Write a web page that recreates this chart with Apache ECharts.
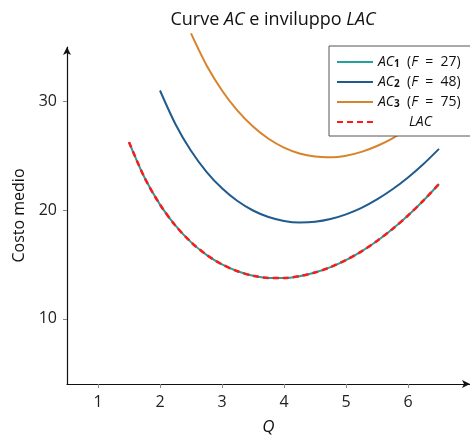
<!DOCTYPE html>
<html>
<head>
<meta charset="utf-8">
<script src="https://cdn.jsdelivr.net/npm/echarts@6/dist/echarts.min.js"></script>
<style>
  html, body { margin: 0; padding: 0; background: #fff; }
  #chart { width: 470px; height: 436px; }
</style>
</head>
<body>
<div id="chart"></div>
<script>
// Q values (step 0.25) and average cost
var q1 = [1.5, 1.75, 2, 2.25, 2.5, 2.75, 3, 3.25, 3.5, 3.75, 4, 4.25, 4.5, 4.75, 5, 5.25, 5.5, 5.75, 6, 6.25, 6.5];
var ac1 = [26.25, 22.99, 20.5, 18.56, 17.05, 15.88, 15.0, 14.37, 13.96, 13.76, 13.75, 13.92, 14.25, 14.75, 15.4, 16.2, 17.16, 18.26, 19.5, 20.88, 22.4];

var q2 = [2, 2.25, 2.5, 2.75, 3, 3.25, 3.5, 3.75, 4, 4.25, 4.5, 4.75, 5, 5.25, 5.5, 5.75, 6, 6.25, 6.5];
var ac2 = [31.0, 27.9, 25.45, 23.52, 22.0, 20.83, 19.96, 19.36, 19.0, 18.86, 18.92, 19.17, 19.6, 20.2, 20.98, 21.91, 23.0, 24.24, 25.63];

var q3 = [2.5, 2.75, 3, 3.25, 3.5, 3.75, 4, 4.25, 4.5, 4.75, 5, 5.25, 5.5, 5.75, 6, 6.25, 6.5];
var ac3 = [36.25, 33.33, 31.0, 29.14, 27.68, 26.56, 25.75, 25.21, 24.92, 24.85, 25.0, 25.35, 25.89, 26.6, 27.5, 28.56, 29.79];

// inviluppo LAC (coincide con AC1 nel grafico)
var qLac = [1.5, 1.75, 2, 2.25, 2.5, 2.75, 3, 3.25, 3.5, 3.75, 4, 4.25, 4.5, 4.75, 5, 5.25, 5.5, 5.75, 6, 6.25, 6.5];
var lac = [26.25, 22.99, 20.5, 18.56, 17.05, 15.88, 15.0, 14.37, 13.96, 13.76, 13.75, 13.92, 14.25, 14.75, 15.4, 16.2, 17.16, 18.26, 19.5, 20.88, 22.4];

var xTicks = [1, 2, 3, 4, 5, 6];
var yTicks = [10, 20, 30];

var FONT = 'Open Sans';

function pairs(xs, ys) {
  return xs.map(function (x, i) { return [x, ys[i]]; });
}

var legendText = {
  'AC1': '{it|AC}{sub|1}  ({it|F}  =  27)',
  'AC2': '{it|AC}{sub|2}  ({it|F}  =  48)',
  'AC3': '{it|AC}{sub|3}  ({it|F}  =  75)',
  'LAC': '{lac|LAC}'
};

var myChart = echarts.init(document.getElementById('chart'));
var option = {
  animation: false,
  title: {
    text: '{n|Curve }{i|AC}{n| e inviluppo }{i|LAC}',
    left: 268,
    top: 6,
    textAlign: 'center',
    textStyle: {
      fontWeight: 'normal',
      rich: {
        n: {fontFamily: FONT, fontSize: 18, fontWeight: 'normal', color: '#111'},
        i: {fontFamily: FONT, fontSize: 18, fontWeight: 'normal', color: '#111', fontStyle: 'italic'}
      }
    }
  },
  grid: {
    left: 67,
    right: 0,
    top: 47,
    bottom: 52,
    outerBoundsMode: 'none'
  },
  legend: {
    orient: 'vertical',
    left: 329,
    top: 46,
    padding: [9, 40, 7, 7],
    itemWidth: 36,
    itemHeight: 14,
    itemGap: 6,
    backgroundColor: '#fff',
    borderColor: '#555',
    borderWidth: 1,
    borderRadius: 0,
    itemStyle: {opacity: 0},
    data: ['AC1', 'AC2', 'AC3', 'LAC'],
    formatter: function (name) {
      return legendText[name];
    },
    textStyle: {
      color: '#111',
      fontFamily: FONT,
      fontSize: 14,
      rich: {
        it: {fontFamily: FONT, fontSize: 14, fontStyle: 'italic', color: '#111', lineHeight: 14},
        sub: {fontFamily: FONT, fontSize: 10, fontWeight: 'bold', color: '#111', verticalAlign: 'bottom', lineHeight: 14},
        lac: {fontFamily: FONT, fontSize: 14, fontStyle: 'italic', color: '#111', width: 85, align: 'center', lineHeight: 14}
      }
    }
  },
  xAxis: {
    type: 'value',
    min: 0.5,
    max: 7,
    name: 'Q',
    nameLocation: 'middle',
    nameGap: 35,
    nameTextStyle: {fontFamily: FONT, fontSize: 17, fontStyle: 'italic', color: '#111'},
    splitLine: {show: false},
    axisLine: {
      onZero: false,
      symbol: ['none', 'arrow'],
      symbolSize: [6, 8],
      lineStyle: {color: '#111', width: 1.2}
    },
    axisTick: {
      show: true,
      customValues: xTicks,
      length: 4,
      lineStyle: {color: '#888'}
    },
    axisLabel: {
      customValues: xTicks,
      margin: 10,
      fontFamily: FONT,
      fontSize: 16,
      color: '#222'
    }
  },
  yAxis: {
    type: 'value',
    min: 4,
    max: 35,
    name: 'Costo medio',
    nameLocation: 'middle',
    nameGap: 40,
    nameTextStyle: {fontFamily: FONT, fontSize: 16, color: '#111'},
    splitLine: {show: false},
    axisLine: {
      show: true,
      onZero: false,
      symbol: ['none', 'arrow'],
      symbolSize: [6, 8],
      lineStyle: {color: '#111', width: 1.2}
    },
    axisTick: {
      show: true,
      customValues: yTicks,
      length: 4,
      lineStyle: {color: '#888'}
    },
    axisLabel: {
      customValues: yTicks,
      margin: 10,
      fontFamily: FONT,
      fontSize: 16,
      color: '#222'
    }
  },
  series: [{
    name: 'AC1',
    type: 'line',
    data: pairs(q1, ac1),
    smooth: 0.3,
    symbol: 'none',
    clip: false,
    color: '#26a09b',
    lineStyle: {width: 2, color: '#26a09b'}
  }, {
    name: 'AC2',
    type: 'line',
    data: pairs(q2, ac2),
    smooth: 0.3,
    symbol: 'none',
    clip: false,
    color: '#1f5b8f',
    lineStyle: {width: 2, color: '#1f5b8f'}
  }, {
    name: 'AC3',
    type: 'line',
    data: pairs(q3, ac3),
    smooth: 0.3,
    symbol: 'none',
    clip: false,
    color: '#d8832c',
    lineStyle: {width: 2, color: '#d8832c'}
  }, {
    name: 'LAC',
    type: 'line',
    data: pairs(qLac, lac),
    smooth: 0.3,
    symbol: 'none',
    clip: false,
    color: '#ff1a1a',
    lineStyle: {width: 2.5, color: '#ff1a1a', type: [6, 4]}
  }]
};
myChart.setOption(option, true);
</script>
</body>
</html>
